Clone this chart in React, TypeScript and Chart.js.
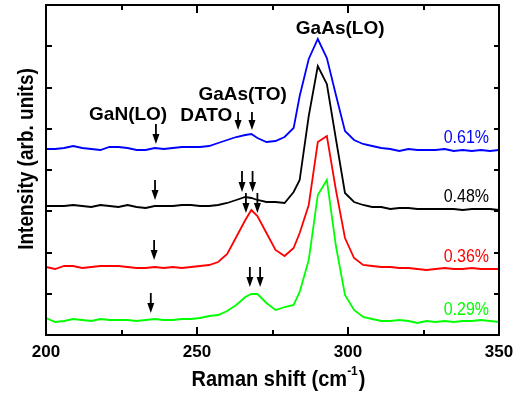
import React, { useEffect, useRef } from "react";
import { Chart, registerables } from "chart.js";

Chart.register(...registerables);

// Raman shift (cm^-1) sampling positions
const ramanShift = [
  200, 203, 206, 209, 212, 215, 218, 221, 224, 227, 230, 233, 236, 239, 242, 245, 248, 251, 254, 257,
  260, 263, 266, 268, 270, 273, 276, 279, 282, 284, 287, 290, 293, 296, 299, 302, 305, 308, 311, 314,
  317, 320, 323, 326, 329, 332, 335, 338, 341, 344, 347, 350,
];

// Intensities (arb. units, vertically offset spectra)
const spectrum061 = [
  186, 186, 187, 189, 187, 186, 185, 188, 188, 187, 185, 185, 187, 186, 187, 188, 188, 188, 189, 192,
  195, 198, 200, 201, 197, 193, 194, 198, 207, 239, 276, 296, 277, 240, 204, 195, 191, 189, 187, 186,
  184, 186, 185, 185, 185, 186, 184, 185, 184, 185, 184, 185,
];
const spectrum048 = [
  129, 129, 129, 130, 129, 128, 130, 129, 128, 130, 128, 127, 129, 129, 129, 130, 130, 129, 129, 130,
  132, 135, 138, 137, 135, 133, 133, 132, 143, 155, 219, 269, 251, 196, 142, 133, 130, 128, 128, 126,
  127, 127, 126, 126, 126, 126, 126, 125, 126, 126, 126, 125,
];
const spectrum036 = [
  68, 66, 69, 69, 67, 68, 69, 69, 69, 68, 67, 67, 68, 67, 68, 67, 68, 69, 70, 73,
  81, 98, 115, 125, 119, 102, 85, 79, 87, 102, 130, 193, 199, 145, 97, 77, 70, 69, 68, 68,
  67, 67, 66, 65, 66, 67, 66, 66, 67, 66, 66, 66,
];
const spectrum029 = [
  17, 13, 14, 16, 15, 14, 16, 15, 15, 15, 14, 15, 16, 15, 15, 16, 16, 17, 19, 20,
  24, 30, 38, 41, 41, 32, 25, 28, 30, 43, 75, 140, 155, 89, 40, 25, 18, 16, 14, 14,
  15, 14, 12, 14, 13, 14, 13, 14, 14, 15, 14, 13,
];

const seriesNames = ["0.61%", "0.48%", "0.36%", "0.29%"];
const seriesColors = ["#0000ff", "#000000", "#ff0000", "#00ff00"];
// label anchor (right-aligned) positions in data units
const seriesLabelX = [346.7, 346.7, 346.7, 346.7];
const seriesLabelY = [192, 133, 73, 20];

// axis
const xMin = 200;
const xMax = 350;
const xTickLabels = [200, 250, 300, 350];
const xMinorTicks = [225, 275, 325];
const yMin = 0;
const yMax = 330;
const yTickStep = 41.25;

// peak labels
const peakLabelText = ["GaAs(LO)", "GaAs(TO)", "GaN(LO)", "DATO"];
const peakLabelX = [297.4, 265.1, 227.2, 253.1];
const peakLabelY = [301, 235, 215, 214];

// arrows: x position, arrow top, arrow tip (data units)
const arrowX = [236.4, 263.6, 268.2, 236.1, 264.9, 268.4, 235.8, 266.2, 270.0, 234.7, 267.5, 270.9];
const arrowTop = [211, 223, 223, 155, 164, 164, 95, 142, 142, 42, 68, 68];
const arrowTip = [191, 205, 205, 135, 143, 143, 75, 122, 122, 22, 48, 48];

const FONT = "'Liberation Sans', Arial, Helvetica, sans-serif";

const decorPlugin = {
  id: "decor",
  afterDatasetsDraw(chart: any) {
    const ctx: CanvasRenderingContext2D = chart.ctx;
    const { left, top, right, bottom } = chart.chartArea;
    const xs = chart.scales.x;
    const ys = chart.scales.y;
    ctx.save();
    ctx.fillStyle = "#000";
    ctx.strokeStyle = "#000";

    // frame
    ctx.lineWidth = 2;
    ctx.strokeRect(left, top, right - left, bottom - top);

    // x ticks (inward, top and bottom)
    const drawXTick = (v: number, len: number) => {
      const px = Math.round(xs.getPixelForValue(v));
      ctx.beginPath();
      ctx.moveTo(px, bottom);
      ctx.lineTo(px, bottom - len);
      ctx.moveTo(px, top);
      ctx.lineTo(px, top + len);
      ctx.stroke();
    };
    xTickLabels.forEach((v) => drawXTick(v, 8));
    xMinorTicks.forEach((v) => drawXTick(v, 5));

    // y ticks (inward, left and right)
    for (let v = yMin + yTickStep; v < yMax - 1; v += yTickStep) {
      const py = Math.round(ys.getPixelForValue(v));
      ctx.beginPath();
      ctx.moveTo(left, py);
      ctx.lineTo(left + 6, py);
      ctx.moveTo(right, py);
      ctx.lineTo(right - 5, py);
      ctx.stroke();
    }

    // x tick labels
    ctx.font = `bold 17px ${FONT}`;
    ctx.textAlign = "center";
    ctx.textBaseline = "alphabetic";
    xTickLabels.forEach((v) => {
      ctx.fillText(String(v), xs.getPixelForValue(v), bottom + 22);
    });

    // x title with superscript
    const mainFont = `bold 20px ${FONT}`;
    const supFont = `bold 12px ${FONT}`;
    ctx.font = mainFont;
    const p1 = "Raman shift (cm";
    const p3 = ")";
    const w1 = ctx.measureText(p1).width;
    const w3 = ctx.measureText(p3).width;
    ctx.font = supFont;
    const p2 = "-1";
    const w2 = ctx.measureText(p2).width;
    const total = w1 + w2 + w3 + 1;
    const cx = (left + right) / 2 + 6;
    const sx = cx - total / 2;
    const base = bottom + 51;
    ctx.textAlign = "left";
    ctx.save();
    ctx.translate(0, base);
    ctx.scale(1, 1.1);
    ctx.font = mainFont;
    ctx.fillText(p1, sx, 0);
    ctx.font = supFont;
    ctx.fillText(p2, sx + w1, -10);
    ctx.font = mainFont;
    ctx.fillText(p3, sx + w1 + w2 + 1, 0);
    ctx.restore();

    // y title
    ctx.save();
    ctx.translate(left - 19, (top + bottom) / 2 - 11);
    ctx.rotate(-Math.PI / 2);
    ctx.scale(1, 1.2);
    ctx.font = `bold 19px ${FONT}`;
    ctx.textAlign = "center";
    ctx.textBaseline = "middle";
    ctx.fillText("Intensity (arb. units)", 0, 0);
    ctx.restore();

    // peak labels
    ctx.font = `bold 19px ${FONT}`;
    ctx.textAlign = "center";
    ctx.textBaseline = "alphabetic";
    peakLabelText.forEach((t, i) => {
      ctx.fillText(t, xs.getPixelForValue(peakLabelX[i]), ys.getPixelForValue(peakLabelY[i]));
    });

    // series labels
    ctx.textAlign = "right";
    seriesNames.forEach((t, i) => {
      ctx.save();
      ctx.fillStyle = seriesColors[i];
      ctx.translate(xs.getPixelForValue(seriesLabelX[i]), ys.getPixelForValue(seriesLabelY[i]));
      ctx.scale(1, 1.1);
      ctx.font = `16px ${FONT}`;
      ctx.fillText(t, 0, 0);
      ctx.restore();
    });

    // arrows
    ctx.lineWidth = 1.8;
    arrowX.forEach((xv, i) => {
      const px = xs.getPixelForValue(xv);
      const pt = ys.getPixelForValue(arrowTop[i]);
      const pb = ys.getPixelForValue(arrowTip[i]);
      ctx.beginPath();
      ctx.moveTo(px, pt);
      ctx.lineTo(px, pb - 8);
      ctx.stroke();
      ctx.beginPath();
      ctx.moveTo(px - 3.5, pb - 10);
      ctx.lineTo(px + 3.5, pb - 10);
      ctx.lineTo(px, pb);
      ctx.closePath();
      ctx.fill();
    });

    ctx.restore();
  },
};

export default function App() {
  const canvasRef = useRef<HTMLCanvasElement | null>(null);

  useEffect(() => {
    if (!canvasRef.current) return;
    const allSpectra = [spectrum061, spectrum048, spectrum036, spectrum029];
    const chart = new Chart(canvasRef.current, {
      type: "line",
      data: {
        datasets: allSpectra.map((vals, i) => ({
          label: seriesNames[i],
          data: ramanShift.map((x, j) => ({ x, y: vals[j] })),
          borderColor: seriesColors[i],
          backgroundColor: seriesColors[i],
          borderWidth: 1.8,
          pointRadius: 0,
          tension: 0,
          fill: false,
        })),
      },
      options: {
        animation: false,
        responsive: false,
        events: [],
        layout: { padding: { left: 46, right: 14, top: 5, bottom: 63 } },
        plugins: { legend: { display: false }, tooltip: { enabled: false } },
        scales: {
          x: { type: "linear", min: xMin, max: xMax, display: false },
          y: { type: "linear", min: yMin, max: yMax, display: false },
        },
      },
      plugins: [decorPlugin],
    });
    return () => chart.destroy();
  }, []);

  return (
    <div style={{ position: "fixed", left: 0, top: 0, width: 513, height: 398, background: "#fff" }}>
      <canvas ref={canvasRef} width={513} height={398} style={{ display: "block" }} />
    </div>
  );
}
